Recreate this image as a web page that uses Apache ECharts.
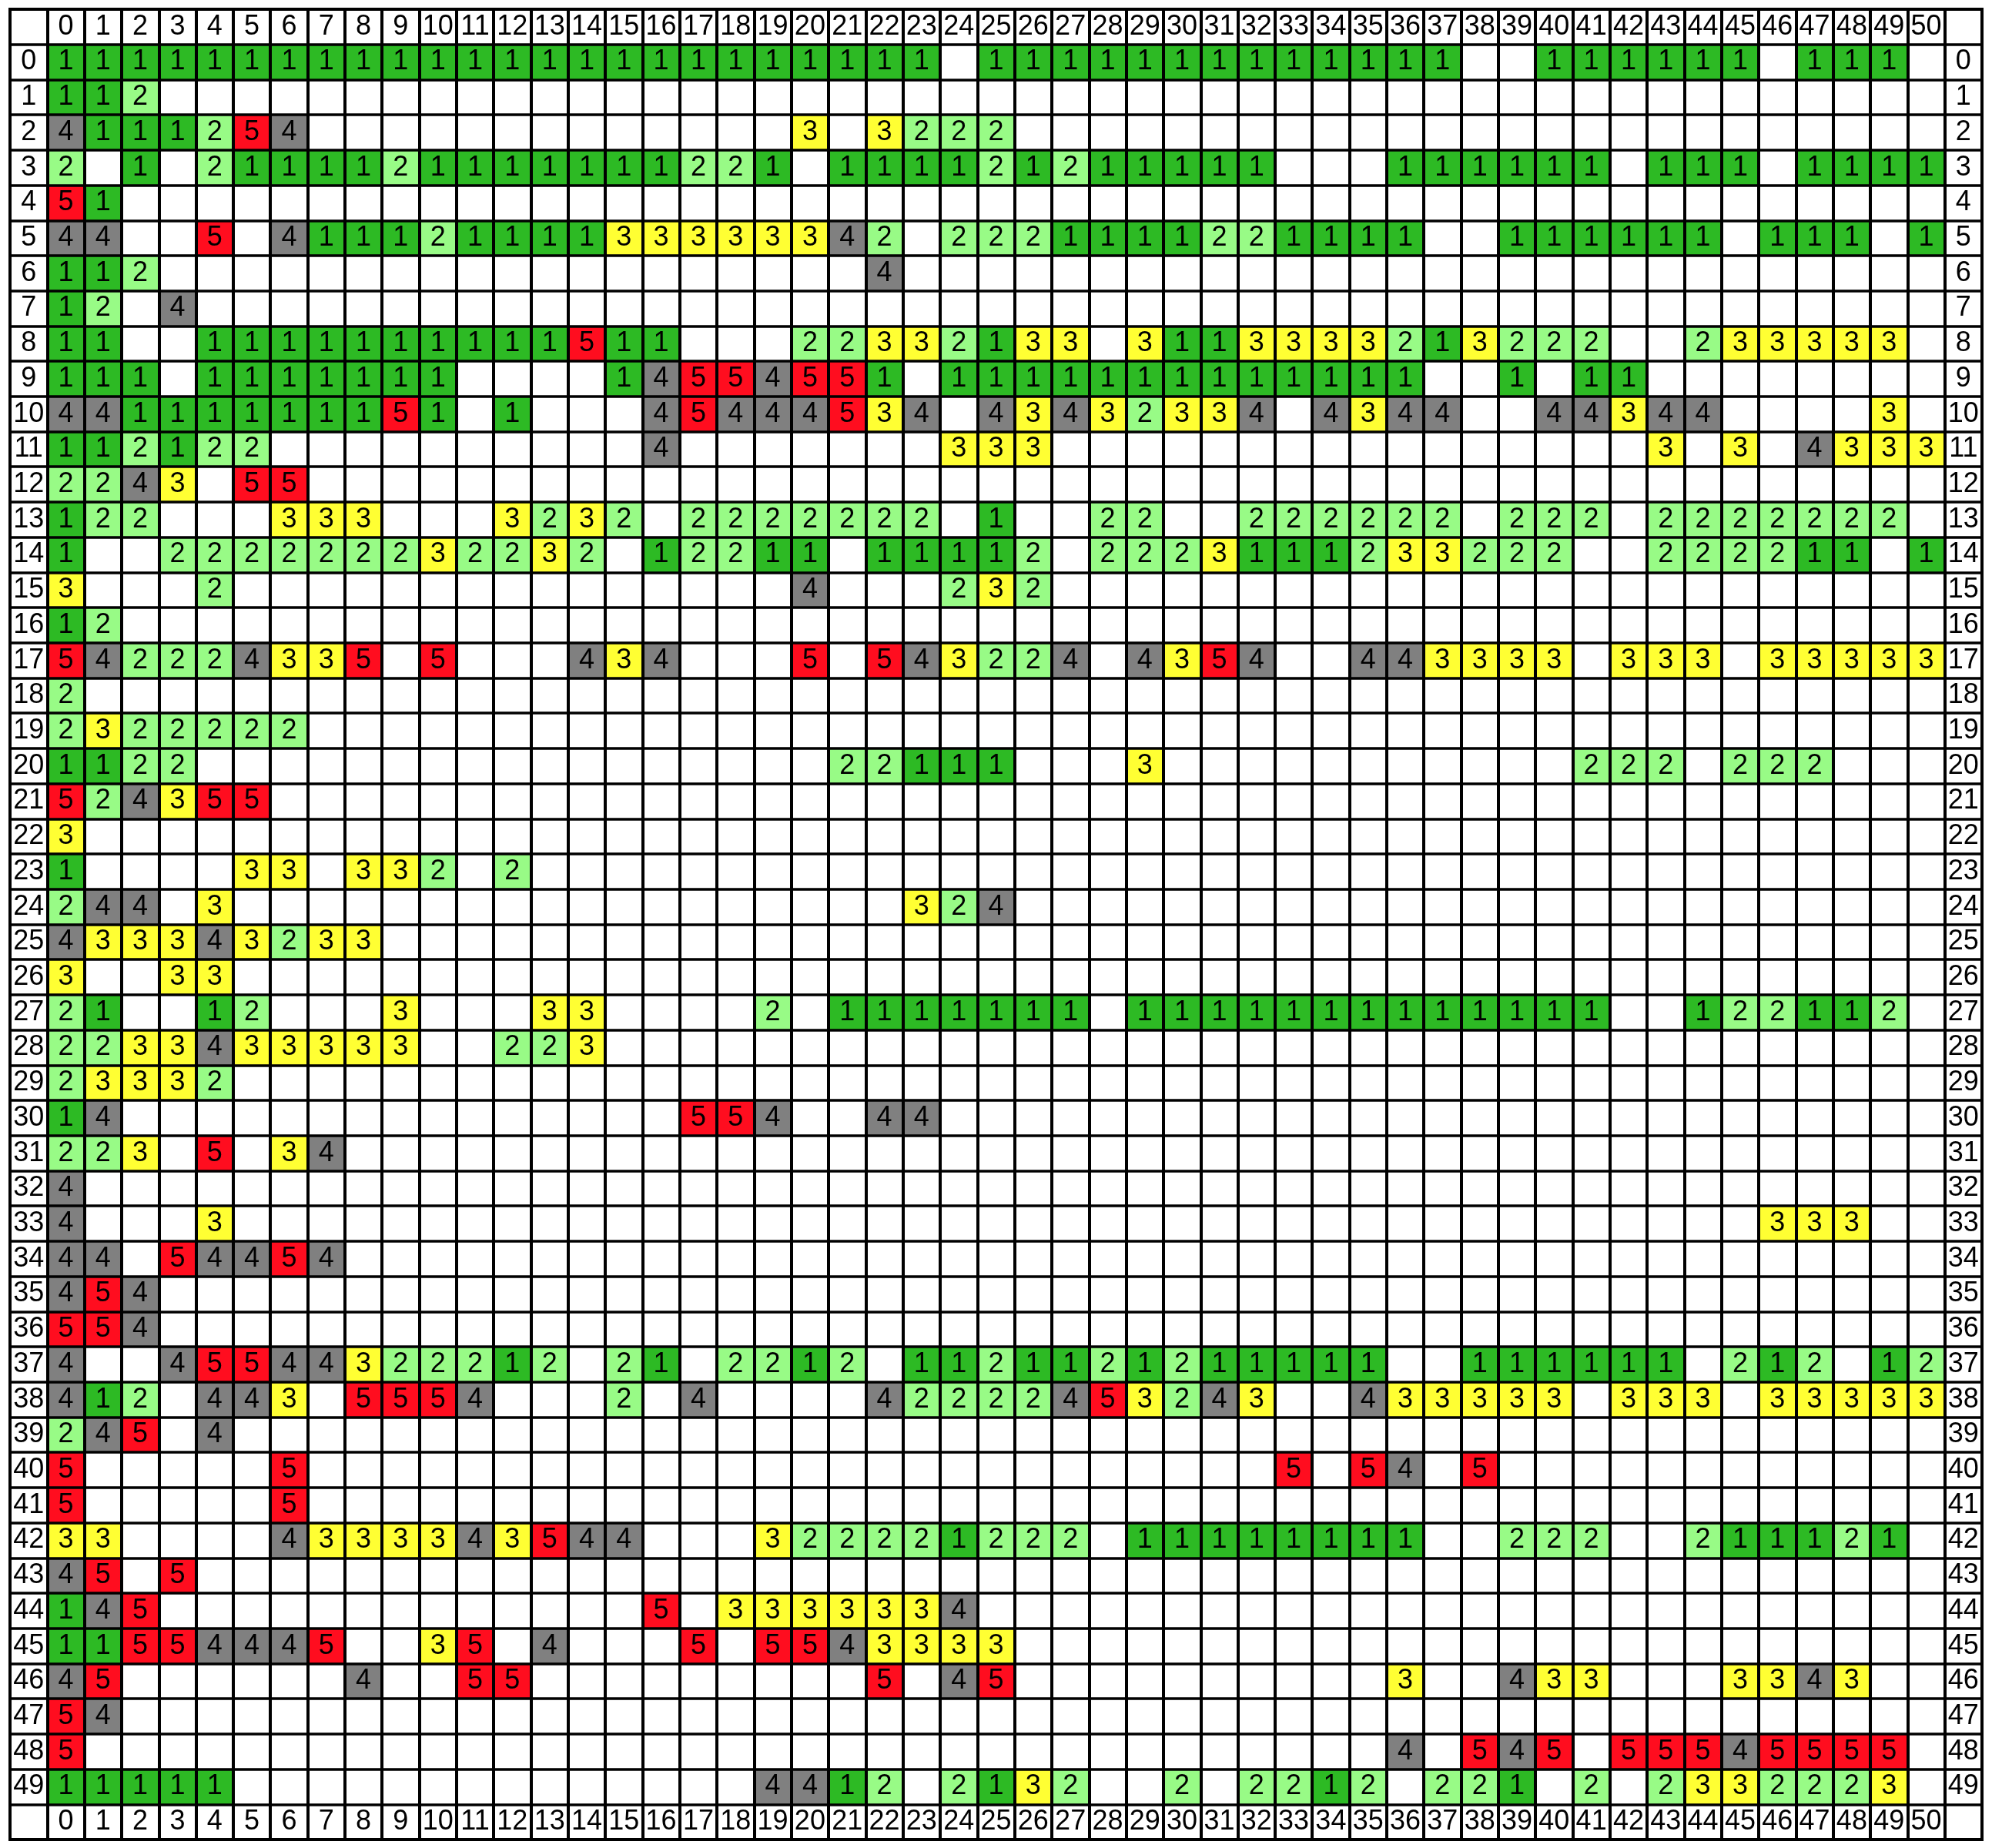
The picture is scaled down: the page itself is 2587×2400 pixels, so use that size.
<!DOCTYPE html>
<html>
<head>
<meta charset="utf-8">
<title>grid</title>
<script src="https://cdn.jsdelivr.net/npm/echarts@6/dist/echarts.min.js"></script>
<style>
  html, body { margin: 0; padding: 0; background: #fff; }
  #chart { width: 2587px; height: 2400px; }
</style>
</head>
<body>
<div id="chart"></div>
<script>
// one string per row (row 0 first), '.' = empty cell, spaces every 10 columns only for reading
// trailing empty cells are left out and padded later
var rowStrings = [
  '1111111111 1111111111 1111.11111 11111111.. 111111.111 .',
  '112',
  '4111254... .......... 3.3222',
  '2.1.211112 1111111221 .111121211 111...1111 11.111.111 1',
  '51',
  '44..5.4111 2111133333 342.222111 1221111..1 11111.111. 1',
  '112....... .......... ..4',
  '12.4',
  '11..111111 1111511... 22332133.3 1133332132 22..233333 .',
  '111.111111 1....14554 551.111111 1111111..1 .11',
  '4411111115 1.1...4544 4534.43432 334.4344.. 44344....3 .',
  '112122.... ......4... ....333... .......... ...3.3.433 3',
  '2243.55',
  '122...333. ..3232.222 2222.1..22 ..222222.2 22.2222222 .',
  '1..2222222 32232.1221 1.11112.22 2311123322 2..222211. 1',
  '3...2..... .......... 4...232',
  '12',
  '542224335. 5...434... 5.543224.4 354..44333 3.333.3333 3',
  '2',
  '2322222',
  '1122...... .......... .22111...3 .......... .222.222',
  '524355',
  '3',
  '1....33.33 2.2',
  '244.3..... .......... ...324',
  '433343233',
  '3..33',
  '21..12...3 ...33....2 .1111111.1 1111111111 11..122112 .',
  '2233433333 ..223',
  '23332',
  '14........ .......554 ..44',
  '223.5.34',
  '4',
  '4...3..... .......... .......... .......... ......333',
  '44.54454',
  '454',
  '554',
  '4..4554432 2212.21.22 12.1121121 211111..11 1111.212.1 2',
  '412.443.55 54...2.4.. ..42222453 243..43333 3.333.3333 3',
  '245.4',
  '5.....5... .......... .......... ...5.54.5',
  '5.....5',
  '33....4333 343544...3 22221222.1 1111111..2 22..211121 .',
  '45.5',
  '145....... ......5.33 33334',
  '11554445.. 35.4...5.5 543333',
  '45......4. .55....... ..5.45.... ......3..4 33...3343',
  '54',
  '5......... .......... .......... ......4.54 5.55545555',
  '11111..... .........4 412.2132.. 2.2212.221 .2.2332223 .'
];

var colLabels = [];
for (var i = 0; i <= 50; i++) colLabels.push(String(i));
var rowLabels = [];
for (var j = 0; j <= 49; j++) rowLabels.push(String(j));

var levels = [1, 2, 3, 4, 5];
var levelColors = ['#2dba24', '#98fb86', '#ffff33', '#808080', '#ff0d1f'];

// x / y categories: an empty label column / header row on each side
var xCats = [''].concat(colLabels, ['']);
var yCats = [''].concat(rowLabels, ['']);

var cells = [];
rowStrings.forEach(function (s, r) {
  var line = s.replace(/ /g, '').padEnd(colLabels.length, '.');
  for (var c = 0; c < line.length; c++) {
    if (line[c] !== '.') cells.push([c + 1, r + 1, +line[c]]);
  }
});

var W = 2587, H = 2400;
var box = { left: 13, top: 12, right: 13, bottom: 11 };
var colW = (W - box.left - box.right) / xCats.length;
var rowH = (H - box.top - box.bottom) / yCats.length;
var font = 'Liberation Sans, Arial, Helvetica, sans-serif';
var fs = 36;

var chart = echarts.init(document.getElementById('chart'));

function xAxis(pos, lines) {
  return {
    type: 'category', data: xCats, position: pos, z: 10,
    axisLine: { show: false }, axisTick: { show: false },
    splitLine: { show: lines, interval: 0, lineStyle: { color: '#000', width: 4 } },
    axisLabel: {
      inside: true, interval: 0, margin: rowH / 2, align: 'center', verticalAlign: 'middle',
      fontSize: fs, color: '#000', fontFamily: font
    }
  };
}
function yAxis(pos, lines) {
  return {
    type: 'category', data: yCats, inverse: true, position: pos, z: 10,
    axisLine: { show: false }, axisTick: { show: false },
    splitLine: { show: lines, interval: 0, lineStyle: { color: '#000', width: 3.5 } },
    axisLabel: {
      inside: true, interval: 0, margin: colW / 2, align: 'center', verticalAlign: 'middle',
      fontSize: fs, color: '#000', fontFamily: font
    }
  };
}

chart.setOption({
  animation: false,
  backgroundColor: '#fff',
  textStyle: { fontFamily: font },
  grid: {
    left: box.left, top: box.top, right: box.right, bottom: box.bottom,
    show: true, borderColor: '#000', borderWidth: 4, z: 12
  },
  xAxis: [xAxis('top', true), xAxis('bottom', false)],
  yAxis: [yAxis('left', true), yAxis('right', false)],
  visualMap: {
    type: 'piecewise', show: false, dimension: 2, seriesIndex: 0,
    pieces: levels.map(function (v, k) { return { value: v, color: levelColors[k] }; })
  },
  series: [{
    type: 'heatmap',
    xAxisIndex: 0,
    yAxisIndex: 0,
    data: cells,
    label: {
      show: true, fontSize: fs, color: '#000', fontFamily: font,
      formatter: function (p) { return p.value[2]; }
    },
    emphasis: { disabled: true }
  }]
});
</script>
</body>
</html>
